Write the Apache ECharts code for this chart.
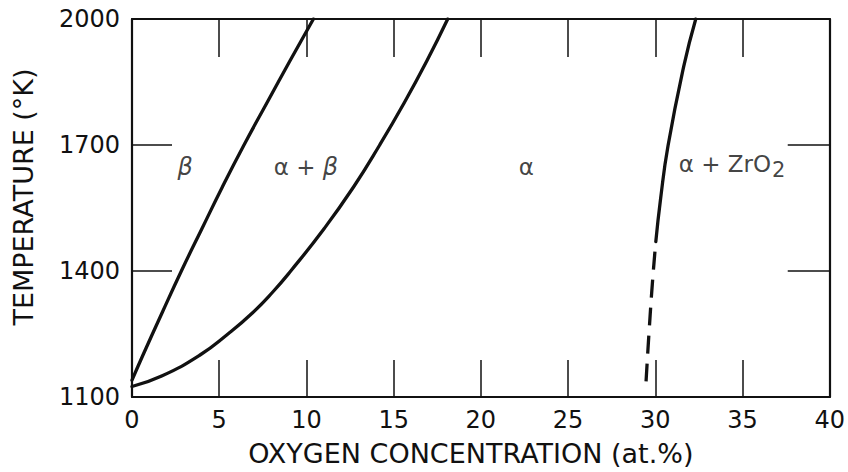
<!DOCTYPE html>
<html>
<head>
<meta charset="utf-8">
<script src="https://cdn.jsdelivr.net/npm/echarts@6/dist/echarts.min.js"></script>
<style>
  html, body { margin: 0; padding: 0; background: #ffffff; }
  #chart { width: 848px; height: 472px; }
</style>
</head>
<body>
<div id="chart"></div>
<script>
// ---- data ----
const xTickLabels = [0, 5, 10, 15, 20, 25, 30, 35, 40];
const yTickLabels = [1100, 1400, 1700, 2000];
const xTitle = 'OXYGEN CONCENTRATION (at.%)';
const yTitle = 'TEMPERATURE (°K)';

// beta / (alpha+beta) boundary  [at.% O, K]
const betaBoundary = [[0, 1140], [0.63, 1200], [1.72, 1300], [2.83, 1400], [4.0, 1500],
  [5.18, 1600], [6.42, 1700], [7.73, 1800], [9.05, 1900], [10.4, 2000]];
// (alpha+beta) / alpha boundary
const alphaBoundary = [[0, 1125], [1.7, 1150], [3.9, 1200], [5.5, 1250], [6.9, 1300],
  [8.07, 1350], [9.1, 1400], [11.0, 1500], [12.7, 1600], [14.2, 1700], [15.6, 1800],
  [16.9, 1900], [18.1, 2000]];
// alpha / (alpha+ZrO2) boundary: solid (measured) and dashed (extrapolated) parts
const oxideSolid = [[30.03, 1470], [30.3, 1571], [30.73, 1698], [31.63, 1887], [32.32, 2000]];
const oxideDashed = [[29.47, 1137], [29.65, 1260], [29.85, 1380], [30.03, 1470]];

// phase-region labels: [x, T, text]
const regionLabels = [
  [3.05, 1647, '{i|β}'],
  [9.97, 1647, '{n|α + }{i|β}'],
  [22.6, 1647, '{n|α}'],
  [34.4, 1654, '{n|α + ZrO}{s|2}']
];

// ---- chart ----
const FONT = 'DejaVu Sans';
const INK = '#111111';
const chart = echarts.init(document.getElementById('chart'), null, { renderer: 'svg' });

const xMin = xTickLabels[0], xMax = xTickLabels[xTickLabels.length - 1];
const xStep = xTickLabels[1] - xTickLabels[0];
const yMin = yTickLabels[0], yMax = yTickLabels[yTickLabels.length - 1];
const yStep = yTickLabels[1] - yTickLabels[0];

const curveStyle = { color: INK, width: 3.3, cap: 'round', join: 'round' };
const curveBase = { type: 'line', smooth: 0.5, showSymbol: false, symbol: 'none', silent: true };

chart.setOption({
  backgroundColor: '#ffffff',
  animation: false,
  grid: { left: 132, right: 18, top: 19, bottom: 73, containLabel: false },
  xAxis: [
    {
      type: 'value', position: 'bottom', min: xMin, max: xMax, interval: xStep,
      axisLine: { show: true, onZero: false, lineStyle: { color: INK, width: 2.2 } },
      axisTick: { show: true, inside: true, length: 37, lineStyle: { color: INK, width: 1.5 } },
      axisLabel: { show: true, margin: 11, color: INK, fontFamily: FONT, fontSize: 24,
        formatter: v => String(v) },
      splitLine: { show: false },
      name: xTitle, nameLocation: 'middle', nameGap: 43,
      nameTextStyle: { color: INK, fontFamily: FONT, fontSize: 27, padding: [0, 20, 0, 0] }
    },
    {
      type: 'value', position: 'top', min: xMin, max: xMax, interval: xStep,
      axisLine: { show: true, onZero: false, lineStyle: { color: INK, width: 2.2 } },
      axisTick: { show: true, inside: true, length: 38, lineStyle: { color: INK, width: 1.5 } },
      axisLabel: { show: false }, splitLine: { show: false }
    }
  ],
  yAxis: [
    {
      type: 'value', position: 'left', min: yMin, max: yMax, interval: yStep,
      axisLine: { show: true, onZero: false, lineStyle: { color: INK, width: 2.2 } },
      axisTick: { show: true, inside: true, length: 40, lineStyle: { color: INK, width: 1.5 } },
      axisLabel: { show: true, margin: 12, color: INK, fontFamily: FONT, fontSize: 24,
        formatter: v => String(v) },
      splitLine: { show: false },
      name: yTitle, nameLocation: 'middle', nameGap: 95, nameRotate: 90,
      nameTextStyle: { color: INK, fontFamily: FONT, fontSize: 27, padding: [0, 0, 0, 22] }
    },
    {
      type: 'value', position: 'right', min: yMin, max: yMax, interval: yStep,
      axisLine: { show: true, onZero: false, lineStyle: { color: INK, width: 2.2 } },
      axisTick: { show: true, inside: true, length: 42, lineStyle: { color: INK, width: 1.5 } },
      axisLabel: { show: false }, splitLine: { show: false }
    }
  ],
  series: [
    Object.assign({ name: 'beta boundary', data: betaBoundary, lineStyle: curveStyle }, curveBase),
    Object.assign({ name: 'alpha boundary', data: alphaBoundary, lineStyle: curveStyle }, curveBase),
    Object.assign({ name: 'oxide boundary', data: oxideSolid, lineStyle: curveStyle }, curveBase),
    Object.assign({ name: 'oxide boundary (extrapolated)', data: oxideDashed,
      lineStyle: Object.assign({}, curveStyle, { type: [18, 10], cap: 'butt' }) }, curveBase),
    {
      type: 'scatter', name: 'regions', silent: true, symbolSize: 0,
      data: regionLabels.map(r => ({ value: [r[0], r[1]], text: r[2] })),
      label: {
        show: true, position: 'inside', color: INK,
        formatter: p => p.data.text,
        rich: {
          n: { fontFamily: FONT, fontSize: 23, color: INK },
          i: { fontFamily: FONT, fontSize: 24, fontStyle: 'italic', color: INK },
          s: { fontFamily: FONT, fontSize: 21, color: INK, padding: [12, 0, 0, 1] }
        }
      }
    }
  ]
});
</script>
</body>
</html>
